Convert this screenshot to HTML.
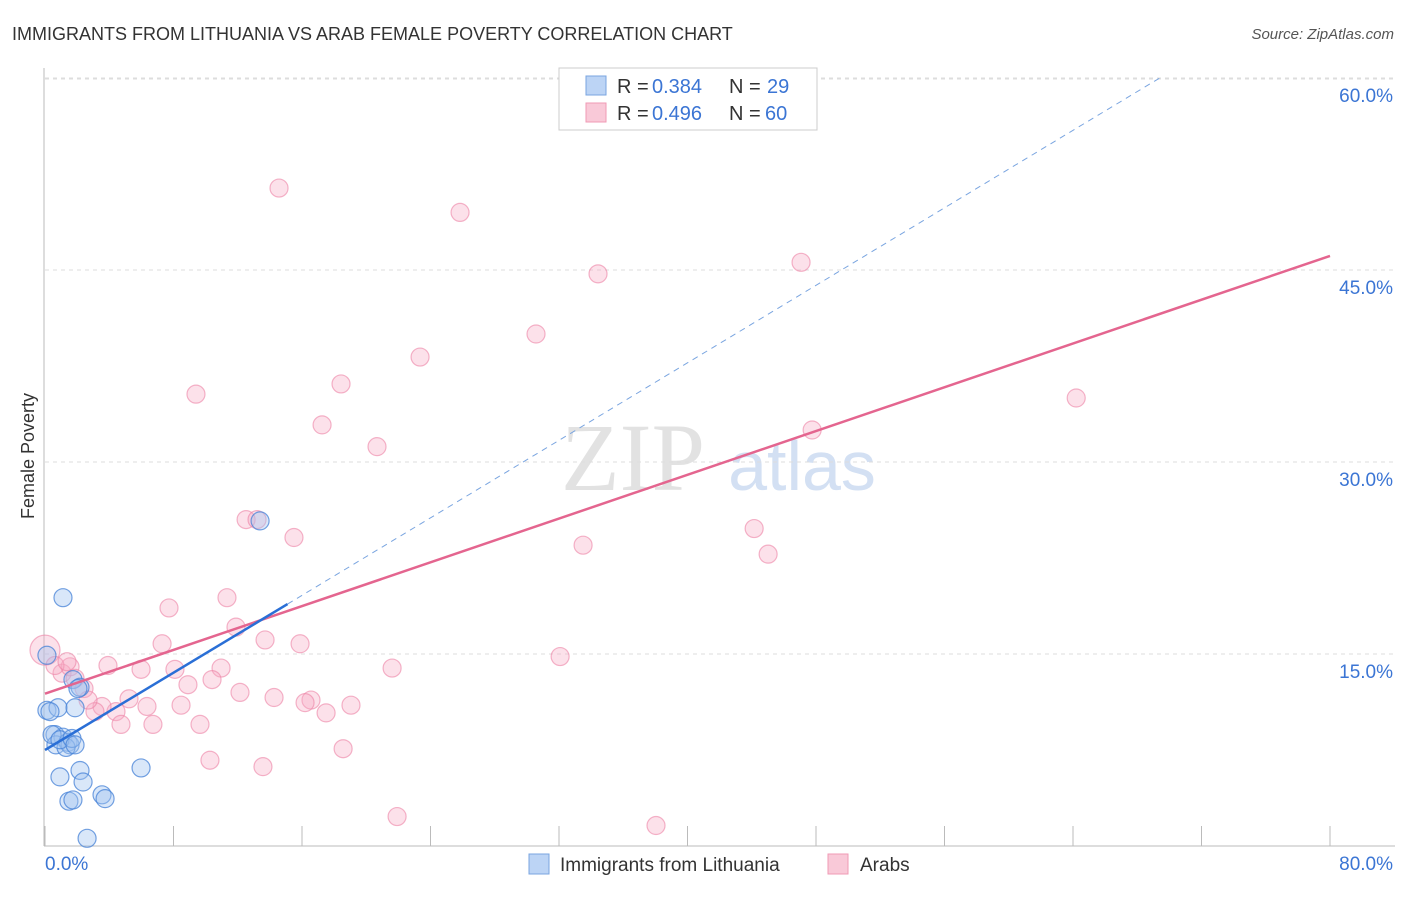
<!DOCTYPE html>
<html><head><meta charset="utf-8"><style>
body{margin:0;background:#fff;font-family:"Liberation Sans",sans-serif;}
</style></head><body>
<svg width="1406" height="892" xmlns="http://www.w3.org/2000/svg" style="font-family:'Liberation Sans',sans-serif">
<text x="12" y="40" font-size="18" fill="#333">IMMIGRANTS FROM LITHUANIA VS ARAB FEMALE POVERTY CORRELATION CHART</text>
<text x="1394" y="39" font-size="15" fill="#555" font-style="italic" text-anchor="end">Source: ZipAtlas.com</text>
<text x="633" y="490" font-size="96" fill="#e2e2e2" font-family="Liberation Serif,serif" text-anchor="middle">ZIP</text>
<text x="802" y="490" font-size="70" fill="#d3e0f3" text-anchor="middle">atlas</text>
<g id="grid"></g>
<g id="axes"></g>
<g id="marks"></g>
<text transform="translate(34,456) rotate(-90)" font-size="18" fill="#333" text-anchor="middle">Female Poverty</text>
<g>
<rect x="559" y="68" width="258" height="62" fill="#fff" stroke="#ccc"/>
<rect x="586" y="76" width="20" height="19" fill="#bcd4f5" stroke="#7aa5e0"/>
<rect x="586" y="103" width="20" height="19" fill="#f9c9d8" stroke="#f09ab5"/>
<text y="93" font-size="20" fill="#333"><tspan x="617">R =</tspan><tspan x="652" fill="#3b75d4">0.384</tspan><tspan x="729">N =</tspan><tspan x="767" fill="#3b75d4">29</tspan></text>
<text y="120" font-size="20" fill="#333"><tspan x="617">R =</tspan><tspan x="652" fill="#3b75d4">0.496</tspan><tspan x="729">N =</tspan><tspan x="765" fill="#3b75d4">60</tspan></text>
</g>
<g>
<rect x="529" y="854" width="20" height="20" fill="#bcd4f5" stroke="#7aa5e0"/>
<text x="560" y="871" font-size="19" fill="#333">Immigrants from Lithuania</text>
<rect x="828" y="854" width="20" height="20" fill="#f9c9d8" stroke="#f09ab5"/>
<text x="860" y="871" font-size="19" fill="#333">Arabs</text>
</g>
</svg>
<script>
const yTicks=[15,30,45,60];
const yTickLabels=["15.0%","30.0%","45.0%","60.0%"];
const xTickLabels=["0.0%","80.0%"];
const blueX=[1.12,0.12,0.12,0.81,1.87,1.74,2.18,0.62,1.12,0.68,1.43,1.56,1.31,2.18,0.93,2.37,1.49,1.74,3.55,3.74,2.62,5.98,13.39,2.05,0.31,0.44,0.93,1.68,1.87];
const blueY=[19.4,14.9,10.6,10.8,10.8,13.0,12.4,8.7,8.5,7.9,8.1,7.9,7.7,5.9,5.4,5.0,3.5,3.6,4.0,3.7,0.6,6.1,25.4,12.3,10.5,8.7,8.3,8.4,7.9];
const pinkX=[14.57,25.84,34.43,47.07,30.57,23.35,18.43,9.40,17.25,20.67,64.20,47.76,12.52,13.20,15.50,33.50,44.15,45.02,7.72,11.33,11.89,13.70,7.29,15.88,32.07,21.61,3.92,5.98,8.09,10.96,10.40,8.90,12.14,14.26,16.56,16.19,19.05,17.50,8.47,6.35,5.23,4.42,3.55,3.11,2.43,1.06,1.56,1.87,0,4.73,6.72,9.65,10.27,13.57,18.56,21.92,38.04,0.62,1.37,2.68];
const pinkY=[51.4,49.5,44.7,45.6,40.0,38.2,36.1,35.3,32.9,31.2,35.0,32.5,25.5,25.5,24.1,23.5,24.8,22.8,18.6,19.4,17.1,16.1,15.8,15.8,14.8,13.9,14.1,13.8,13.8,13.9,13.0,12.6,12.0,11.6,11.4,11.2,11.0,10.4,11.0,10.9,11.5,10.5,10.9,10.5,12.3,13.5,14.0,13.1,15.3,9.5,9.5,9.5,6.7,6.2,7.6,2.3,1.6,14.1,14.4,11.4];
const pinkTrendX=[0,80], pinkTrendY=[11.9,46.1];
const blueTrendX=[0,15.1], blueTrendY=[7.5,18.9];
const blueDashX=[15.1,69.4], blueDashY=[18.9,60];
const NS="http://www.w3.org/2000/svg";
const X=v=>45+v/80*1285, Y=v=>846-v*12.8;
function mk(t,a,p){const e=document.createElementNS(NS,t);for(const k in a)e.setAttribute(k,a[k]);document.getElementById(p).appendChild(e);return e;}
yTicks.forEach((t,i)=>{
 const l=mk('line',{x1:45,x2:1395,y1:Y(t),y2:Y(t),stroke:'#ddd','stroke-dasharray':'4,4'},'grid');
 
 
 const tx=mk('text',{x:1393,y:Y(t)+24,'font-size':19,fill:'#3b75d4','text-anchor':'end'},'axes');
 tx.textContent=yTickLabels[i];
 
 
});
mk('line',{x1:45,x2:1395,y1:79,y2:79,stroke:'#ddd','stroke-dasharray':'4,4'},'grid');
const ya=mk('line',{x1:44,x2:44,y1:68,y2:846,stroke:'#bbb'},'axes');


const xa=mk('line',{x1:44,x2:1395,y1:846,y2:846,stroke:'#bbb'},'axes');


for(let i=0;i<=10;i++){const t=mk('line',{x1:X(i*8),x2:X(i*8),y1:826,y2:846,stroke:'#bbb'},'axes');
 
 }
[[0,'start',45],[80,'end',1393]].forEach((d,i)=>{const t=mk('text',{x:d[2],y:870,'font-size':19,fill:'#3b75d4','text-anchor':d[1]},'axes');t.textContent=xTickLabels[i];
 
 });
pinkX.forEach((x,i)=>{const c=mk('circle',{cx:X(x),cy:Y(pinkY[i]),r:(x===0?15:9),fill:'rgba(246,170,195,0.35)',stroke:'rgba(236,130,165,0.6)','stroke-width':1.2},'marks');
 
 });
blueX.forEach((x,i)=>{const c=mk('circle',{cx:X(x),cy:Y(blueY[i]),r:9,fill:'rgba(160,195,240,0.4)',stroke:'rgba(70,130,215,0.75)','stroke-width':1.2},'marks');
 
 });
const pt=mk('line',{x1:X(pinkTrendX[0]),y1:Y(pinkTrendY[0]),x2:X(pinkTrendX[1]),y2:Y(pinkTrendY[1]),stroke:'#e4658f','stroke-width':2.5},'marks');


const bt=mk('line',{x1:X(blueTrendX[0]),y1:Y(blueTrendY[0]),x2:X(blueTrendX[1]),y2:Y(blueTrendY[1]),stroke:'#2a6fd6','stroke-width':2.5},'marks');


const bd=mk('line',{x1:X(blueDashX[0]),y1:Y(blueDashY[0]),x2:X(blueDashX[1]),y2:Y(blueDashY[1]),stroke:'#7aa5e0','stroke-width':1,'stroke-dasharray':'6,5'},'marks');


</script>
</body></html>
